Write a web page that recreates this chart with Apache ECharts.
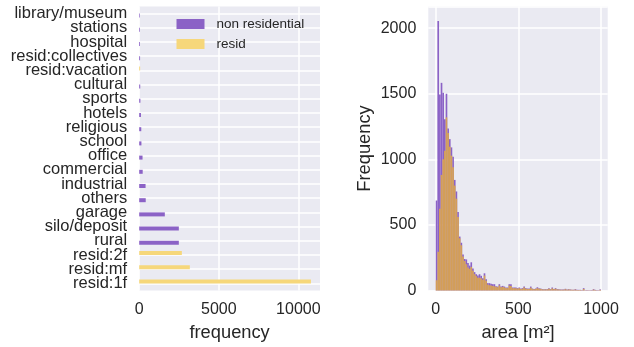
<!DOCTYPE html>
<html>
<head>
<meta charset="utf-8">
<script src="https://cdn.jsdelivr.net/npm/echarts@6/dist/echarts.min.js"></script>
<style>
  html, body { margin: 0; padding: 0; background: #ffffff; }
  #chart { width: 634px; height: 347px; }
</style>
</head>
<body>
<div id="chart"></div>
<script>
// Building types (bottom to top) and their counts
const buildingTypes = ['resid:1f', 'resid:mf', 'resid:2f', 'rural', 'silo/deposit', 'garage', 'others',
  'industrial', 'commercial', 'office', 'school', 'religious', 'hotels', 'sports', 'cultural',
  'resid:vacation', 'resid:collectives', 'hospital', 'stations', 'library/museum'];
const nonResidCounts = [0, 0, 0, 2490, 2490, 1610, 410, 400, 220, 210, 140, 130, 110, 75, 65, 0, 55, 50, 45, 40];
const residCounts = [10790, 3180, 2680, 0, 0, 0, 0, 0, 0, 0, 0, 0, 0, 0, 0, 60, 0, 0, 0, 0];
const freqTicks = [0, 5000, 10000];

// Floor-area histogram: 100 bins of 10 m² starting at 0
const areaBinStart = 0;
const areaBinWidth = 10;
const areaNonResid = [
  686, 2055, 1494, 1583, 1507, 1305, 1500, 1235, 1154, 1091,
  1020, 843, 755, 598, 411, 364, 275, 240, 237, 210,
  190, 215, 168, 140, 124, 114, 124, 112, 93, 131,
  86, 56, 56, 52, 48, 48, 33, 30, 48, 30,
  35, 30, 23, 23, 48, 48, 23, 23, 23, 18,
  23, 15, 18, 30, 18, 15, 15, 30, 15, 12,
  15, 25, 18, 15, 10, 10, 10, 10, 18, 10,
  23, 12, 18, 10, 10, 8, 8, 8, 13, 8,
  10, 8, 6, 6, 10, 5, 5, 5, 3, 18,
  3, 3, 3, 3, 3, 10, 5, 3, 3, 8
];
const areaResid = [
  78, 295, 623, 881, 1000, 1066, 1320, 1200, 1096, 1028,
  940, 800, 700, 560, 398, 345, 260, 225, 200, 175,
  165, 180, 150, 125, 110, 98, 98, 93, 81, 114,
  75, 45, 40, 38, 35, 32, 28, 25, 38, 25,
  28, 24, 20, 18, 38, 35, 18, 18, 17, 14,
  18, 12, 14, 22, 14, 12, 12, 22, 12, 9,
  12, 18, 14, 12, 8, 8, 8, 8, 14, 8,
  16, 9, 13, 8, 8, 6, 6, 6, 10, 6,
  8, 6, 5, 5, 7, 4, 4, 4, 2, 12,
  2, 2, 2, 2, 2, 7, 4, 2, 2, 5
];
const areaTicks = [0, 500, 1000];

const PURPLE = '#8b62c6';
const YELLOW = '#f6d77b';
const HIST_YELLOW = 'rgba(236,180,50,0.74)';
const TEXT = '#262626';
const FONT = 'Liberation Sans';

function histData(counts) {
  return counts.map((c, i) => [areaBinStart + i * areaBinWidth, areaBinStart + (i + 1) * areaBinWidth, c]);
}

function histRender(fill) {
  return function (params, api) {
    const p0 = api.coord([api.value(0), api.value(2)]);
    const p1 = api.coord([api.value(1), 0]);
    return {
      type: 'rect',
      shape: { x: p0[0], y: p0[1], width: p1[0] - p0[0], height: p1[1] - p0[1] },
      style: { fill: fill }
    };
  };
}

const plain = (v) => String(v);

const chart = echarts.init(document.getElementById('chart'), null, { renderer: 'canvas' });

const gridLine = { show: true, lineStyle: { color: '#ffffff', width: 1.5 } };

chart.setOption({
  animation: false,
  backgroundColor: '#ffffff',
  textStyle: { fontFamily: FONT, color: TEXT },
  legend: {
    data: ['non residential', 'resid'],
    orient: 'vertical',
    left: 176.5,
    top: 17,
    padding: 0,
    itemWidth: 28,
    itemHeight: 10,
    itemGap: 6,
    icon: 'rect',
    textStyle: { fontFamily: FONT, fontSize: 13.5, lineHeight: 14, color: TEXT, padding: [0, 0, 0, 7] }
  },
  grid: [
    { left: 139.2, top: 6.5, width: 180.8, height: 286, show: true, backgroundColor: '#eaeaf2', borderWidth: 0 },
    { left: 428.3, top: 6.5, width: 179.4, height: 285.8, show: true, backgroundColor: '#eaeaf2', borderWidth: 0 }
  ],
  xAxis: [
    {
      gridIndex: 0, type: 'value', min: 0, max: 11360,
      name: 'frequency', nameLocation: 'middle', nameGap: 42.5,
      nameTextStyle: { fontFamily: FONT, fontSize: 18.3, color: TEXT, verticalAlign: 'middle' },
      axisLine: { show: false },
      axisTick: { show: false, customValues: freqTicks },
      axisLabel: { fontFamily: FONT, fontSize: 16, color: TEXT, margin: 11.5, formatter: plain,
        customValues: freqTicks },
      splitLine: gridLine
    },
    {
      gridIndex: 1, type: 'value', min: -45, max: 1040.5,
      name: 'area [m²]', nameLocation: 'middle', nameGap: 42.5,
      nameTextStyle: { fontFamily: FONT, fontSize: 18.3, color: TEXT, verticalAlign: 'middle' },
      axisLine: { show: false },
      axisTick: { show: false, customValues: areaTicks },
      axisLabel: { fontFamily: FONT, fontSize: 16, color: TEXT, margin: 11.5, formatter: plain,
        customValues: areaTicks },
      splitLine: gridLine
    }
  ],
  yAxis: [
    {
      gridIndex: 0, type: 'category', data: buildingTypes,
      axisLine: { show: false },
      axisTick: { show: false, alignWithLabel: true },
      axisLabel: { fontFamily: FONT, fontSize: 16.5, color: TEXT, margin: 12, interval: 0 },
      splitLine: { show: true, alignWithLabel: true, interval: 0, lineStyle: { color: '#ffffff', width: 1.5 } }
    },
    {
      gridIndex: 1, type: 'value', min: 0, max: 2165, interval: 500,
      name: 'Frequency', nameLocation: 'middle', nameGap: 63, nameRotate: 90,
      nameTextStyle: { fontFamily: FONT, fontSize: 18.3, color: TEXT, verticalAlign: 'middle' },
      axisLine: { show: false }, axisTick: { show: false },
      axisLabel: { fontFamily: FONT, fontSize: 16, color: TEXT, margin: 12, showMaxLabel: false, formatter: plain },
      splitLine: gridLine
    }
  ],
  series: [
    {
      name: 'resid', type: 'bar', xAxisIndex: 0, yAxisIndex: 0,
      data: residCounts, barWidth: 4, barGap: '0%',
      itemStyle: { color: YELLOW }
    },
    {
      name: 'non residential', type: 'bar', xAxisIndex: 0, yAxisIndex: 0,
      data: nonResidCounts, barWidth: 4, barGap: '0%',
      itemStyle: { color: PURPLE }
    },
    {
      name: 'area non residential', type: 'custom', xAxisIndex: 1, yAxisIndex: 1,
      data: histData(areaNonResid), encode: { x: [0, 1], y: 2 },
      renderItem: histRender(PURPLE), z: 2
    },
    {
      name: 'area resid', type: 'custom', xAxisIndex: 1, yAxisIndex: 1,
      data: histData(areaResid), encode: { x: [0, 1], y: 2 },
      renderItem: histRender(HIST_YELLOW), z: 3
    }
  ]
});
</script>
</body>
</html>
